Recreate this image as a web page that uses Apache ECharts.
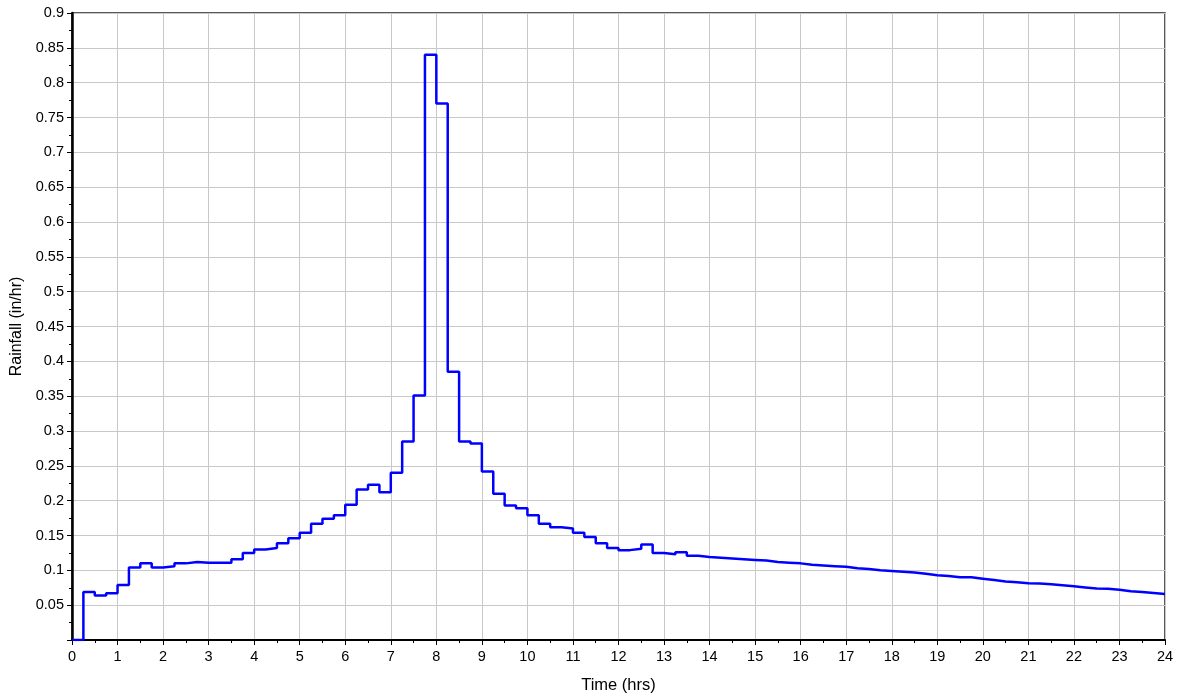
<!DOCTYPE html>
<html>
<head>
<meta charset="utf-8">
<script src="https://cdn.jsdelivr.net/npm/echarts@6/dist/echarts.min.js"></script>
<style>
html,body{margin:0;padding:0;background:#fff;}
#chart{width:1177px;height:700px;}
</style>
</head>
<body>
<div id="chart"></div>
<script>
// 15-minute rainfall intensity blocks (in/hr), starting at 0 hrs
const stepHours = 0.25;
const rainfall = [
  0, 0.069, 0.064, 0.067, 0.079, 0.104, 0.110, 0.104,
  0.106, 0.110, 0.112, 0.111, 0.111, 0.111, 0.116, 0.125,
  0.130, 0.132, 0.139, 0.146, 0.154, 0.167, 0.174, 0.179,
  0.194, 0.216, 0.223, 0.212, 0.240, 0.285, 0.351, 0.840,
  0.770, 0.385, 0.285, 0.282, 0.242, 0.210, 0.193, 0.189,
  0.179, 0.167, 0.162, 0.160, 0.154, 0.148, 0.139, 0.132,
  0.129, 0.131, 0.137, 0.125, 0.123, 0.126, 0.121, 0.119,
  0.118, 0.117, 0.116, 0.115, 0.114, 0.112, 0.111, 0.110,
  0.108, 0.107, 0.106, 0.105, 0.103, 0.102, 0.100, 0.099,
  0.098, 0.097, 0.095, 0.093, 0.092, 0.090, 0.090, 0.088,
  0.086, 0.084, 0.083, 0.0815, 0.081, 0.080, 0.0785, 0.077,
  0.0755, 0.074, 0.0735, 0.072, 0.070, 0.069, 0.0675, 0.066
];
const xTitle = 'Time (hrs)';
const yTitle = 'Rainfall (in/hr)';

const seriesData = rainfall.map((v, i) => [i * stepHours, v]);
seriesData.push([rainfall.length * stepHours, rainfall[rainfall.length - 1]]);

const font = 'Liberation Sans, Arial, sans-serif';
const chart = echarts.init(document.getElementById('chart'), null, {renderer: 'canvas'});
chart.setOption({
  animation: false,
  backgroundColor: '#fff',
  grid: {left: 72, right: 12, top: 13, bottom: 60, show: true, borderColor: '#222', borderWidth: 1.5,
         containLabel: false, outerBoundsMode: 'none'},
  xAxis: {
    type: 'value', min: 0, max: 24, interval: 1,
    name: xTitle, nameLocation: 'middle', nameGap: 37,
    nameTextStyle: {fontFamily: font, fontSize: 16.5, color: '#000'},
    axisLine: {show: true, onZero: false, lineStyle: {color: '#000', width: 2}},
    axisTick: {show: true, length: 5, lineStyle: {color: '#000'}},
    minorTick: {show: true, splitNumber: 2, length: 3, lineStyle: {color: '#000'}},
    axisLabel: {fontFamily: font, fontSize: 14.5, color: '#000', margin: 9},
    splitLine: {show: true, lineStyle: {color: '#c8c8c8', width: 1}}
  },
  yAxis: {
    type: 'value', min: 0, max: 0.9, interval: 0.05,
    name: yTitle, nameLocation: 'middle', nameGap: 47,
    nameTextStyle: {fontFamily: font, fontSize: 16, color: '#000'},
    axisLine: {show: true, onZero: false, lineStyle: {color: '#000', width: 2.5}},
    axisTick: {show: true, length: 5, lineStyle: {color: '#000'}},
    minorTick: {show: true, splitNumber: 2, length: 3, lineStyle: {color: '#000'}},
    axisLabel: {fontFamily: font, fontSize: 14.5, color: '#000', margin: 8,
      formatter: v => (Math.abs(v) < 1e-9 ? '' : String(+v.toFixed(2)))},
    splitLine: {show: true, lineStyle: {color: '#c8c8c8', width: 1}}
  },
  series: [{
    type: 'line', step: 'end', data: seriesData, symbol: 'none',
    lineStyle: {color: '#0000ff', width: 2.5}
  }]
});
</script>
</body>
</html>
